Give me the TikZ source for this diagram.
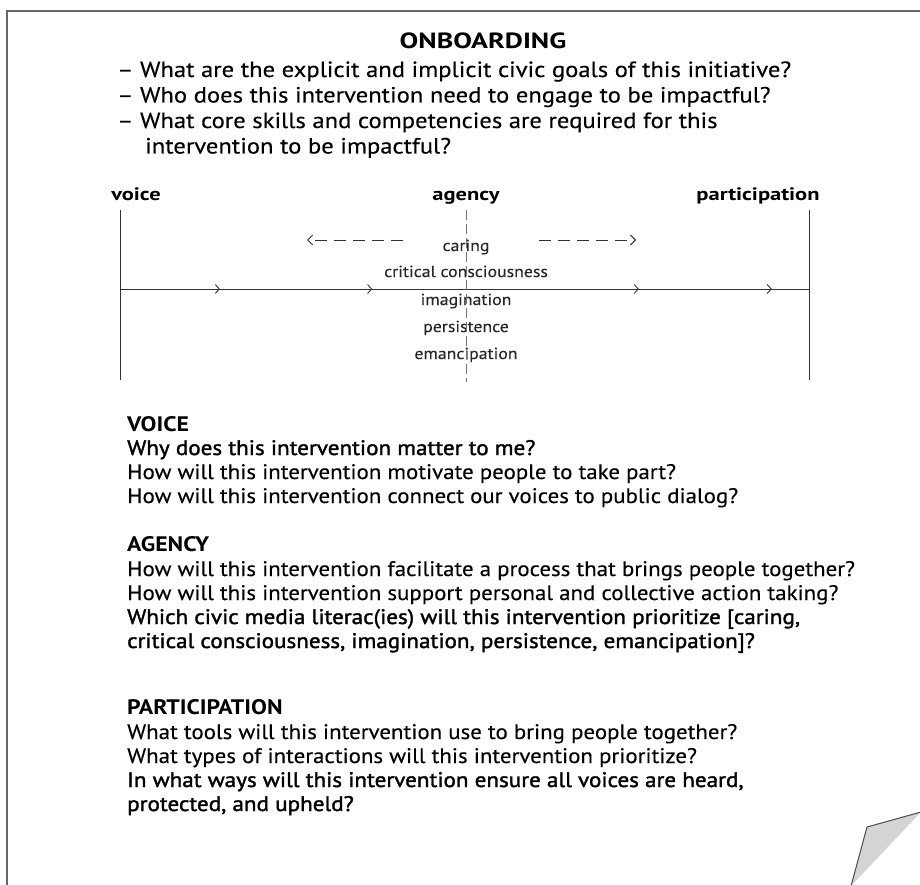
\documentclass[tikz,border=0pt]{standalone}
\usepackage{fontspec}
\setmainfont{PT Sans}
\newfontfamily\bodyf{PT Sans}[FakeStretch=1.09,FakeBold=0.25]
\newfontfamily\qf{PT Sans}[FakeStretch=1.12,FakeBold=0.25]
\newfontfamily\semif{PT Sans}[FakeStretch=1.1,FakeBold=1.6]
\newfontfamily\headf{PT Sans}[FakeStretch=1.13]
\newfontfamily\titlef{PT Sans}[FakeStretch=1.27]
\newfontfamily\labf{PT Sans}[FakeStretch=1.25]
\newfontfamily\wordf{PT Sans}[FakeStretch=1.11,FakeBold=0.2]
\usetikzlibrary{arrows.meta,decorations.markings}
\tikzset{
  chev/.tip={Straight Barb[length=4pt,width=9pt,line width=0.9pt]},
  frameline/.style={draw=black!60,line width=1.6pt},
  qtxt/.style={anchor=base west,inner sep=0pt,font=\qf\fontsize{22}{24}\selectfont},
  txt/.style={anchor=base west,inner sep=0pt,font=\bodyf\fontsize{21}{24}\selectfont},
  stxt/.style={anchor=base west,inner sep=0pt,font=\semif\fontsize{21}{24}\selectfont},
  head/.style={anchor=base west,inner sep=0pt,font=\headf\bfseries\fontsize{21}{24}\selectfont},
  axlabel/.style={anchor=base,inner sep=0pt,font=\labf\bfseries\fontsize{18}{20}\selectfont},
  word/.style={anchor=base,inner sep=0pt,font=\wordf\fontsize{16}{18}\selectfont,text=black!85},
  axis/.style={draw=black!80,line width=0.9pt},
  dasharrow/.style={draw=black!80,line width=0.9pt,dash pattern=on 12pt off 7pt,-{Straight Barb[length=5pt,width=10pt]}},
  midline/.style={draw=black!55,line width=0.7pt,dash pattern=on 10pt off 4pt},
}
\begin{document}
\begin{tikzpicture}[x=1pt,y=-1pt]
\useasboundingbox (0,0) rectangle (920,885);
% frame
\coordinate (ftr) at (921,11);
\coordinate (ftl) at (7,11);
\coordinate (fbl) at (7,886);
\draw[frameline] (ftr) -- (ftl) -- (fbl);
% page corner
\coordinate (c1) at (867,827);
\coordinate (c2) at (921,812);
\coordinate (c3) at (851,886);
\draw[fill=black!17,draw=black!70,line width=1pt] (c3) -- (c1) -- (c2);
% onboarding
\node[anchor=base,inner sep=0pt,font=\titlef\bfseries\fontsize{22}{24}\selectfont] (onb) at (483,49) {ONBOARDING};
\node[qtxt] (q1) at (117,77) {– What are the explicit and implicit civic goals of this initiative?};
\node[qtxt] (q2) at (117,102.5) {– Who does this intervention need to engage to be impactful?};
\node[qtxt] (q3) at (117,128) {– What core skills and competencies are required for this};
\node[qtxt] (q3b) at (145,153.5) {intervention to be impactful?};
% diagram
\node[axlabel] (lv) at (136,201) {voice};
\node[axlabel] (la) at (466,201) {agency};
\node[axlabel] (lp) at (758,201) {participation};
\coordinate (vt) at (120,210);
\coordinate (vb) at (120,380);
\coordinate (pt) at (809,210);
\coordinate (pb) at (809,380);
\coordinate (at) at (466,210);
\coordinate (ab) at (466,382);
\coordinate (vm) at (120,289);
\coordinate (pm) at (809,289);
\node[word] (w1) at (466,251) {caring};
\node[word] (w2) at (466,277) {critical consciousness};
\node[word] (w3) at (466,305) {imagination};
\node[word] (w4) at (466,332) {persistence};
\node[word] (w5) at (466,359) {emancipation};
\draw[axis] (vt) -- (vb);
\draw[axis] (pt) -- (pb);
\draw[axis,postaction={decorate},decoration={markings,
  mark=at position 0.145 with {\arrow{chev}},
  mark=at position 0.366 with {\arrow{chev}},
  mark=at position 0.753 with {\arrow{chev}},
  mark=at position 0.946 with {\arrow{chev}}}] (vm) -- (pm);
\draw[midline] (at) -- (ab);
\coordinate (dl1) at (403,240);
\coordinate (dl2) at (307,240);
\coordinate (dr1) at (539,240);
\coordinate (dr2) at (636,240);
\draw[dasharrow] (dl1) -- (dl2);
\draw[dasharrow] (dr1) -- (dr2);
% voice
\node[head] (hv) at (127,431) {VOICE};
\node[stxt] (v1) at (127,455) {Why does this intervention matter to me?};
\node[txt] (v2) at (127,479) {How will this intervention motivate people to take part?};
\node[txt] (v3) at (127,503) {How will this intervention connect our voices to public dialog?};
% agency
\node[head] (ha) at (127,551) {AGENCY};
\node[txt] (a1) at (127,576) {How will this intervention facilitate a process that brings people together?};
\node[txt] (a2) at (127,600) {How will this intervention support personal and collective action taking?};
\node[stxt] (a3) at (127,624) {Which civic media literac(ies) will this intervention prioritize [caring,};
\node[stxt] (a4) at (127,648) {critical consciousness, imagination, persistence, emancipation]?};
% participation
\node[head] (hp) at (127,714) {PARTICIPATION};
\node[txt] (p1) at (127,739) {What tools will this intervention use to bring people together?};
\node[txt] (p2) at (127,763) {What types of interactions will this intervention prioritize?};
\node[stxt] (p3) at (127,787) {In what ways will this intervention ensure all voices are heard,};
\node[stxt] (p4) at (127,811) {protected, and upheld?};
\end{tikzpicture}
\end{document}
